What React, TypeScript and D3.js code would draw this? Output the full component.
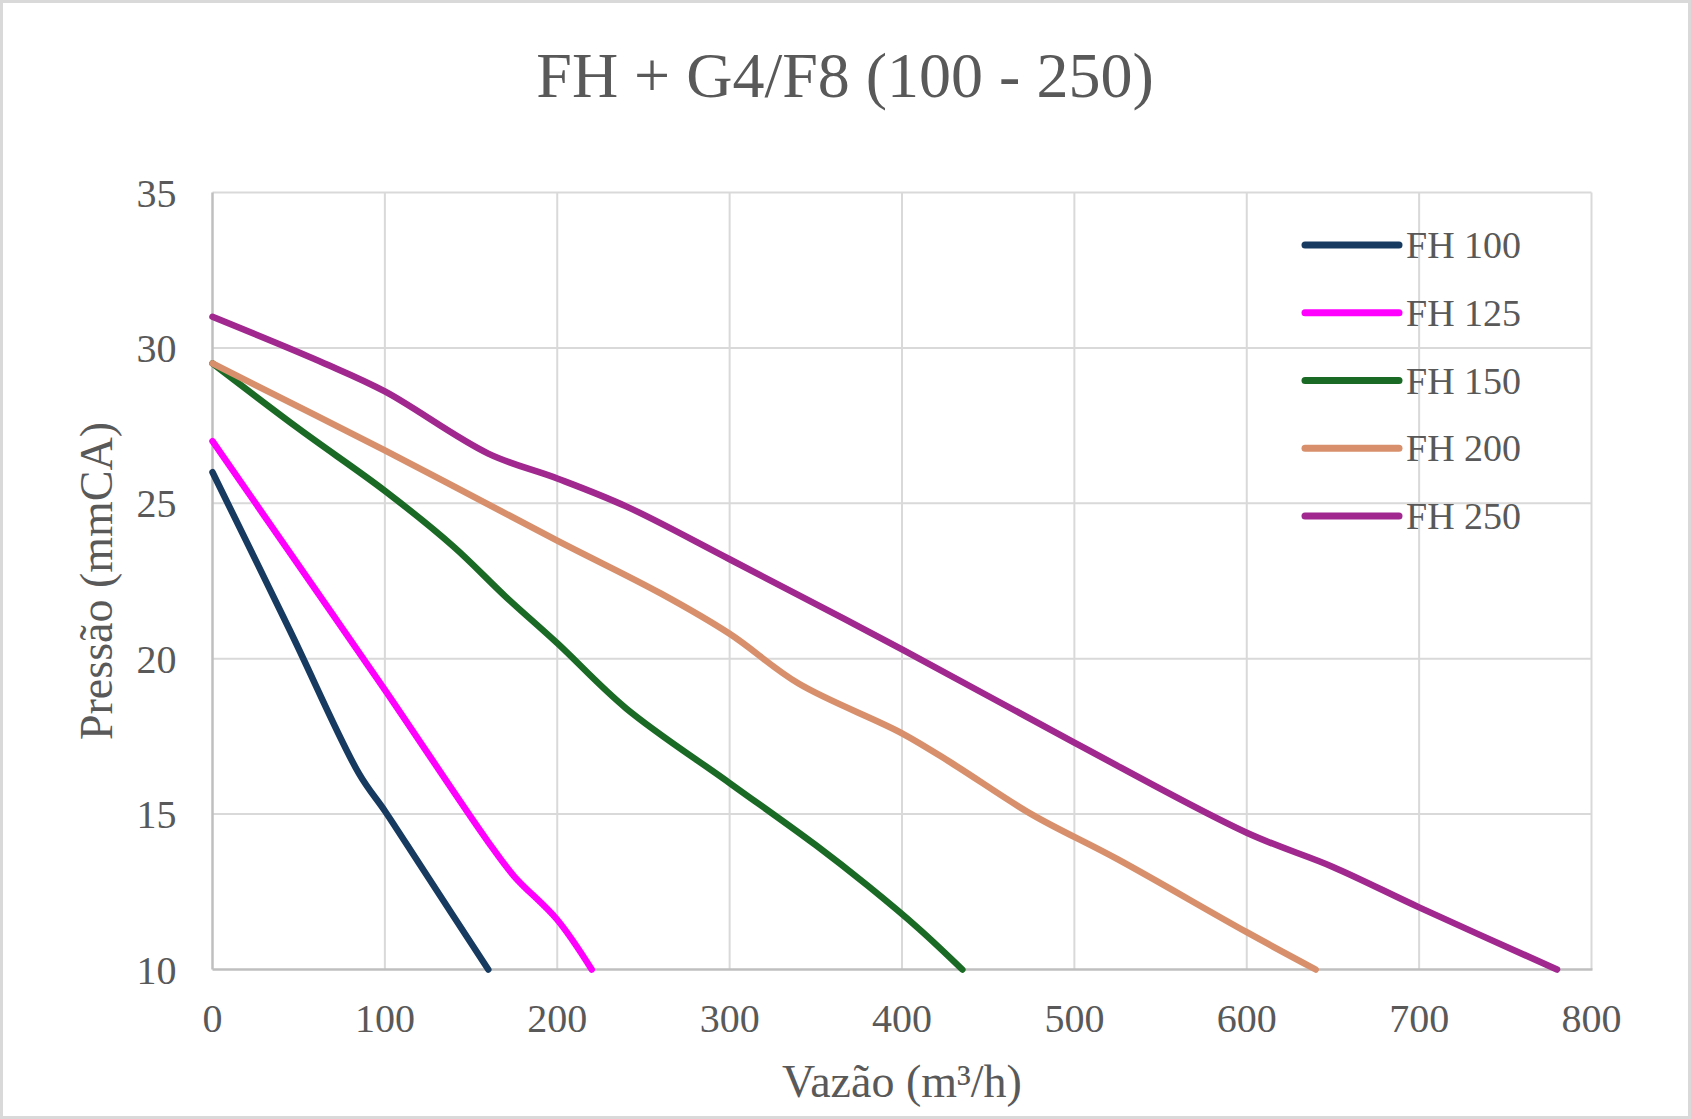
import React from 'react';
import * as d3 from 'd3';

// flow (m³/h) / pressure (mmCA)
const fh100Flow = [0, 45, 85, 100, 120, 140, 160];
const fh100Pres = [26, 20.9, 16.3, 15.1, 13.4, 11.7, 10];

const fh125Flow = [0, 50, 100, 160, 175, 200, 220];
const fh125Pres = [27, 23, 19, 14.1, 13, 11.6, 10];

const fh150Flow = [0, 50, 100, 140, 170, 200, 240, 300, 350, 380, 410, 435];
const fh150Pres = [29.5, 27.4, 25.4, 23.6, 22.0, 20.5, 18.4, 16, 14.0, 12.7, 11.3, 10];

const fh200Flow = [0, 100, 200, 260, 300, 340, 400, 430, 475, 525, 600, 640];
const fh200Pres = [29.5, 26.7, 23.8, 22.1, 20.8, 19.2, 17.6, 16.6, 15.0, 13.55, 11.2, 10];

const fh250Flow = [0, 65, 100, 160, 200, 240, 300, 400, 500, 600, 650, 700, 780];
const fh250Pres = [31, 29.5, 28.6, 26.6, 25.8, 24.9, 23.2, 20.3, 17.3, 14.4, 13.3, 12, 10];

const seriesNames = ['FH 100', 'FH 125', 'FH 150', 'FH 200', 'FH 250'];
const seriesColors = ['#173a60', '#ff00ff', '#1a6a25', '#d8906c', '#a0288f'];
const seriesFlows = [fh100Flow, fh125Flow, fh150Flow, fh200Flow, fh250Flow];
const seriesPres = [fh100Pres, fh125Pres, fh150Pres, fh200Pres, fh250Pres];

const xTicks = [0, 100, 200, 300, 400, 500, 600, 700, 800];
const yTicks = [10, 15, 20, 25, 30, 35];

const W = 1691;
const H = 1119;
const FONT = '"Liberation Serif", "Times New Roman", serif';
const TEXT = '#595959';

export default function App() {
  const x = d3.scaleLinear().domain([0, 800]).range([212.5, 1591.5]);
  const y = d3.scaleLinear().domain([10, 35]).range([969.5, 192.5]);

  const line = d3.line<[number, number]>()
    .x(d => x(d[0]))
    .y(d => y(d[1]))
    .curve(d3.curveCatmullRom.alpha(0.5));

  const legendY = d3.scaleLinear().domain([0, 4]).range([245, 516]);

  return (
    <svg width={W} height={H} style={{ position: 'absolute', left: 0, top: 0, background: '#fff' }}
      fontFamily={FONT}>
      <rect x={1.5} y={1.5} width={W - 3} height={H - 3} fill="#fff" stroke="#d9d9d9" strokeWidth={3} />

      <text x={845} y={97} textAnchor="middle" fontSize={64} fill={TEXT}>FH + G4/F8 (100 - 250)</text>

      {/* grid */}
      {yTicks.filter(t => t !== 10).map(t => (
        <line key={'gy' + t} x1={x(0)} x2={x(800)} y1={y(t)} y2={y(t)} stroke="#d9d9d9" strokeWidth={2} />
      ))}
      {xTicks.filter(t => t !== 0).map(t => (
        <line key={'gx' + t} x1={x(t)} x2={x(t)} y1={y(35)} y2={y(10)} stroke="#d9d9d9" strokeWidth={2} />
      ))}
      {/* axes */}
      <line x1={x(0)} x2={x(0)} y1={y(35)} y2={y(10)} stroke="#bfbfbf" strokeWidth={2.5} />
      <line x1={x(0)} x2={x(800) + 1} y1={y(10)} y2={y(10)} stroke="#bfbfbf" strokeWidth={2.5} />

      {yTicks.map(t => (
        <text key={'ty' + t} x={176.5} y={y(t) + 14} textAnchor="end" fontSize={40} fill={TEXT}>{t}</text>
      ))}
      {xTicks.map(t => (
        <text key={'tx' + t} x={x(t)} y={1032} textAnchor="middle" fontSize={40} fill={TEXT}>{t}</text>
      ))}

      <text x={902} y={1097} textAnchor="middle" fontSize={46} fill={TEXT}>Vazão (m³/h)</text>
      <text transform={`translate(112, ${(y(35) + y(10)) / 2}) rotate(-90)`} textAnchor="middle"
        fontSize={46} fill={TEXT}>Pressão (mmCA)</text>

      {/* series */}
      {seriesNames.map((name, i) => {
        const pts = seriesFlows[i].map((f, j) => [f, seriesPres[i][j]] as [number, number]);
        return (
          <path key={name} d={line(pts) || ''} fill="none" stroke={seriesColors[i]} strokeWidth={6.5}
            strokeLinecap="round" strokeLinejoin="round" />
        );
      })}

      {/* legend */}
      {seriesNames.map((name, i) => (
        <g key={'lg' + name}>
          <line x1={1305} x2={1399} y1={legendY(i)} y2={legendY(i)} stroke={seriesColors[i]}
            strokeWidth={7} strokeLinecap="round" />
          <text x={1406} y={legendY(i) + 13} fontSize={38} fill={TEXT}>{name}</text>
        </g>
      ))}
    </svg>
  );
}
